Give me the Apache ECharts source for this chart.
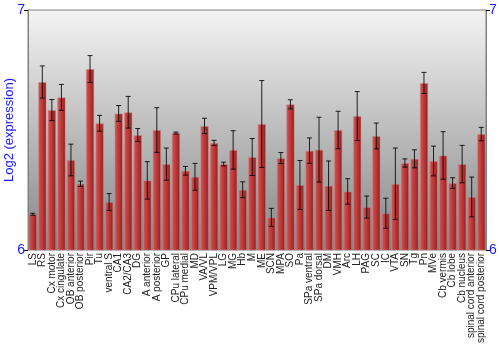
<!DOCTYPE html>
<html><head><meta charset="utf-8">
<script src="https://cdn.jsdelivr.net/npm/echarts@6/dist/echarts.min.js"></script>
<style>html,body{margin:0;padding:0;background:#fff}#c{width:500px;height:350px}</style>
</head><body><div id="c"></div>
<script>
const categories = ["LS","RS","Cx motor","Cx cingulate","OB anterior","OB posterior","Pir","Tu","ventral S","CA1","CA2/CA3","DG","A anterior","A posterior","GP","CPu lateral","CPu medial","MD","VA/VL","VPM/VPL","LG","MG","Hb","M","ME","SCN","MPA","SO","Pa","SPa ventral","SPa dorsal","DM","VMH","Arc","LH","PAG","SC","IC","VTA","SN","Tg","Pn","MVe","Cb vermis","Cb lobe","Cb nucleus","spinal cord anterior","spinal cord posterior"];
const values = [6.149,6.700,6.583,6.636,6.375,6.276,6.754,6.528,6.200,6.569,6.574,6.479,6.290,6.500,6.358,6.4875,6.330,6.305,6.517,6.446,6.358,6.417,6.251,6.3875,6.525,6.136,6.383,6.607,6.271,6.414,6.418,6.268,6.500,6.244,6.558,6.179,6.475,6.153,6.276,6.3625,6.380,6.696,6.371,6.394,6.279,6.358,6.221,6.483];
const errors = [0.004,0.067,0.044,0.054,0.066,0.011,0.056,0.033,0.035,0.033,0.066,0.027,0.078,0.093,0.067,0.004,0.018,0.056,0.032,0.011,0.008,0.080,0.033,0.077,0.181,0.0375,0.023,0.019,0.102,0.053,0.135,0.103,0.078,0.053,0.102,0.046,0.054,0.0625,0.149,0.017,0.0375,0.044,0.062,0.099,0.022,0.078,0.083,0.028];
const yTicks = [6, 7];

const FONT = 'Liberation Sans, Arial, sans-serif';
const chart = echarts.init(document.getElementById('c'), null, {renderer:'canvas'});
const errData = values.map((v,i)=>[i, v-errors[i], v+errors[i]]);
const yAxisCommon = {
  type:'value', min:yTicks[0], max:yTicks[1], interval:1,
  axisLine:{show:true, lineStyle:{color:'#808080', width:1}},
  axisTick:{show:true, length:4, lineStyle:{color:'#000'}},
  splitLine:{show:false},
  axisLabel:{color:'#1a1aff', fontSize:14, fontFamily:FONT, margin:3}
};
chart.setOption({
  animation:false,
  grid:{left:28, right:14, top:10, bottom:100, show:true, borderColor:'#808080', borderWidth:1,
    outerBoundsMode:'none', containLabel:false,
    backgroundColor:{type:'linear', x:0, y:0, x2:0, y2:1, colorStops:[
      {offset:0, color:'#f4f4f4'},{offset:1, color:'#858585'}]}},
  xAxis:{type:'category', data:categories,
    axisLine:{show:false}, axisTick:{show:false},
    axisLabel:{rotate:90, interval:0, fontSize:10, color:'#222', fontFamily:FONT, margin:3}},
  yAxis:[
    Object.assign({}, yAxisCommon, {position:'left', name:'Log2 (expression)', nameLocation:'middle', nameGap:12,
      nameMoveOverlap:false,
      nameTextStyle:{color:'#1a1aff', fontSize:13, fontFamily:FONT}}),
    Object.assign({}, yAxisCommon, {position:'right'})
  ],
  series:[
    {type:'bar', data:values, barCategoryGap:'12%',
      itemStyle:{color:{type:'linear', x:0, y:0, x2:1, y2:0, colorStops:[
        {offset:0, color:'#d65c5c'},{offset:0.25, color:'#c94646'},{offset:0.7, color:'#ad2e2e'},{offset:1, color:'#801a1a'}]},
        borderColor:'rgba(210,130,130,0.45)', borderWidth:1}},
    {type:'custom', data:errData, z:10,
      renderItem:function(params, api){
        const x = api.coord([api.value(0), api.value(1)])[0];
        const lo = api.coord([api.value(0), api.value(1)])[1];
        const hi = api.coord([api.value(0), api.value(2)])[1];
        const w = 2.5;
        const st = {stroke:'#000', lineWidth:1, opacity:0.85};
        return {type:'group', children:[
          {type:'line', shape:{x1:x, y1:lo, x2:x, y2:hi}, style:st},
          {type:'line', shape:{x1:x-w, y1:lo, x2:x+w, y2:lo}, style:st},
          {type:'line', shape:{x1:x-w, y1:hi, x2:x+w, y2:hi}, style:st}
        ]};
      }}
  ]
});
</script></body></html>
